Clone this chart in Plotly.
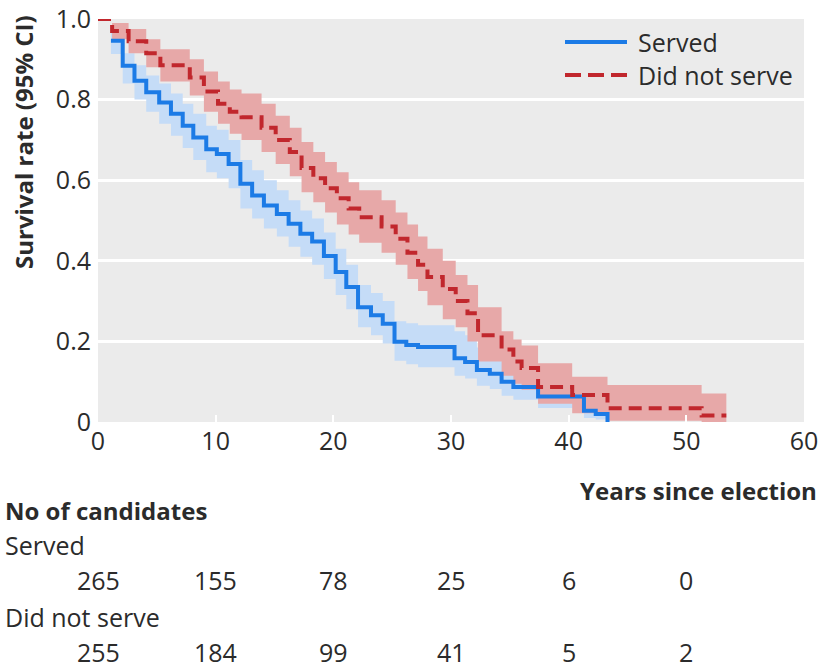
import plotly.graph_objects as go

# ---------------- data ----------------
served_t = [1.1, 2.1, 3.1, 4.1, 5.2, 6.2, 7.2, 8.1, 9.2, 10.1, 11.1, 12.1, 13.1, 14.1, 15.2,
            16.2, 17.2, 18.2, 19.2, 20.2, 21.1, 22.1, 23.2, 24.2, 25.2, 26.2, 27.2, 30.3, 31.2,
            32.2, 33.3, 34.3, 35.3, 37.4, 41.3, 42.3, 43.3]
served_s = [0.946, 0.884, 0.847, 0.818, 0.793, 0.765, 0.735, 0.706, 0.677, 0.665, 0.640, 0.591,
            0.562, 0.537, 0.516, 0.492, 0.467, 0.448, 0.412, 0.372, 0.335, 0.285, 0.265, 0.244,
            0.199, 0.191, 0.186, 0.158, 0.149, 0.129, 0.120, 0.100, 0.087, 0.063, 0.028, 0.020, 0.0]
served_hi = [0.972, 0.915, 0.885, 0.86, 0.84, 0.815, 0.79, 0.765, 0.735, 0.725, 0.70, 0.65, 0.625,
             0.60, 0.575, 0.55, 0.525, 0.505, 0.47, 0.43, 0.39, 0.34, 0.32, 0.30, 0.25, 0.245,
             0.24, 0.225, 0.215, 0.185, 0.175, 0.15, 0.135, 0.10, 0.05, 0.04, 0.04]
served_lo = [0.913, 0.84, 0.80, 0.77, 0.74, 0.71, 0.68, 0.65, 0.62, 0.605, 0.58, 0.53, 0.505,
             0.48, 0.46, 0.435, 0.41, 0.39, 0.355, 0.315, 0.28, 0.235, 0.215, 0.195, 0.152,
             0.143, 0.136, 0.115, 0.108, 0.09, 0.082, 0.065, 0.055, 0.035, 0.01, 0.006, 0.006]

dns_t = [0, 1.2, 2.6, 4.1, 5.3, 7.8, 9.0, 10.2, 11.2, 12.2, 13.9, 15.1, 16.3, 17.3, 18.3, 19.3,
         20.3, 21.3, 22.2, 24.1, 25.3, 26.3, 27.2, 28.0, 29.3, 30.4, 31.4, 32.3, 34.3, 35.3,
         36.0, 37.4, 40.3, 43.3, 51.3, 53.4]
dns_s = [1.0, 0.970, 0.945, 0.915, 0.885, 0.855, 0.820, 0.790, 0.770, 0.756, 0.730, 0.700,
         0.670, 0.630, 0.605, 0.580, 0.555, 0.530, 0.508, 0.485, 0.455, 0.420, 0.390, 0.360,
         0.330, 0.300, 0.270, 0.215, 0.180, 0.150, 0.134, 0.087, 0.067, 0.034, 0.016, 0.016]
dns_band_t = [1.2, 2.6, 4.1, 5.3, 7.8, 9.0, 10.2, 11.2, 12.2, 13.9, 15.1, 16.3, 17.3, 18.3, 19.3,
              20.3, 21.3, 22.2, 24.1, 25.3, 26.3, 27.2, 28.0, 29.3, 30.4, 31.4, 32.3, 34.3, 35.3,
              36.0, 37.4, 40.3, 43.3, 51.3, 53.4]
dns_hi = [0.99, 0.975, 0.95, 0.925, 0.90, 0.87, 0.845, 0.825, 0.815, 0.79, 0.76, 0.73, 0.695,
          0.67, 0.645, 0.62, 0.595, 0.575, 0.55, 0.52, 0.49, 0.46, 0.43, 0.40, 0.365, 0.34,
          0.285, 0.225, 0.205, 0.19, 0.146, 0.112, 0.092, 0.071, 0.071]
dns_lo = [0.95, 0.915, 0.88, 0.845, 0.81, 0.77, 0.74, 0.715, 0.70, 0.67, 0.64, 0.61, 0.57,
          0.545, 0.52, 0.49, 0.465, 0.445, 0.42, 0.39, 0.355, 0.325, 0.29, 0.255, 0.235, 0.20,
          0.15, 0.115, 0.095, 0.08, 0.045, 0.022, 0.003, 0.0, 0.0]

x_ticks = [0, 10, 20, 30, 40, 50, 60]
y_ticks = [0, 0.2, 0.4, 0.6, 0.8, 1.0]
y_ticktext = ["0", "0.2", "0.4", "0.6", "0.8", "1.0"]

risk_times = [0, 10, 20, 30, 40, 50]
served_at_risk = [265, 155, 78, 25, 6, 0]
dns_at_risk = [255, 184, 99, 41, 5, 2]

# ---------------- styling ----------------
FONT = "Open Sans"
FS = 25
TXT = "#2b2b2b"
BLUE = "#1C7BE6"
BLUE_BAND = "#C5DCF7"
RED = "#C1272D"
RED_BAND = "#E7A8A8"
BG = "#EBEBEB"

W, H = 824, 668
PL, PR, PT, PB = 98, 804, 19, 422


def px_x(px):
    return (px - PL) / (PR - PL)


def px_y(py):
    return (PB - py) / (PB - PT)


fig = go.Figure()

# confidence bands
fig.add_trace(go.Scatter(x=served_t, y=served_hi, mode="lines",
                         line=dict(width=0, shape="hv", color=BLUE_BAND),
                         showlegend=False, hoverinfo="skip"))
fig.add_trace(go.Scatter(x=served_t, y=served_lo, mode="lines",
                         line=dict(width=0, shape="hv", color=BLUE_BAND),
                         fill="tonexty", fillcolor=BLUE_BAND,
                         showlegend=False, hoverinfo="skip"))
fig.add_trace(go.Scatter(x=dns_band_t, y=dns_hi, mode="lines",
                         line=dict(width=0, shape="hv", color=RED_BAND),
                         showlegend=False, hoverinfo="skip"))
fig.add_trace(go.Scatter(x=dns_band_t, y=dns_lo, mode="lines",
                         line=dict(width=0, shape="hv", color=RED_BAND),
                         fill="tonexty", fillcolor=RED_BAND,
                         showlegend=False, hoverinfo="skip"))

# survival curves
fig.add_trace(go.Scatter(x=served_t, y=served_s, mode="lines", name="Served",
                         line=dict(color=BLUE, width=4, shape="hv"),
                         cliponaxis=False, showlegend=False))
fig.add_trace(go.Scatter(x=dns_t, y=dns_s, mode="lines", name="Did not serve",
                         line=dict(color=RED, width=4, shape="hv", dash="13px,7px"),
                         cliponaxis=False, showlegend=False))

annotations = []
shapes = []

# legend (drawn manually so sample length matches)
legend_items = [("Served", BLUE, "solid", 42), ("Did not serve", RED, "16px,7px", 75)]
for label, color, dash, py in legend_items:
    shapes.append(dict(type="line", xref="paper", yref="paper",
                       x0=px_x(565), x1=px_x(627), y0=px_y(py), y1=px_y(py),
                       line=dict(color=color, width=4, dash=dash)))
    annotations.append(dict(text=label, xref="paper", yref="paper",
                            x=px_x(636), y=px_y(py), xanchor="left", yanchor="middle",
                            showarrow=False, font=dict(family=FONT, size=FS, color=TXT)))

# y-axis title
annotations.append(dict(text="Survival rate (95% CI)", xref="paper", yref="paper",
                        x=px_x(23), y=px_y(142), textangle=-90,
                        xanchor="center", yanchor="middle", showarrow=False,
                        font=dict(family=FONT, size=FS - 1, color=TXT, weight="bold")))
# x-axis title
annotations.append(dict(text="Years since election", xref="paper", yref="paper",
                        x=px_x(819), y=px_y(490), xanchor="right", yanchor="middle",
                        showarrow=False,
                        font=dict(family=FONT, size=FS - 1, color=TXT, weight="bold")))
# number at risk table
annotations.append(dict(text="No of candidates", xref="paper", yref="paper",
                        x=px_x(3), y=px_y(510), xanchor="left", yanchor="middle",
                        showarrow=False,
                        font=dict(family=FONT, size=FS - 1, color=TXT, weight="bold")))
for label, py in [("Served", 545), ("Did not serve", 617)]:
    annotations.append(dict(text=label, xref="paper", yref="paper",
                            x=px_x(3), y=px_y(py), xanchor="left", yanchor="middle",
                            showarrow=False, font=dict(family=FONT, size=FS, color=TXT)))
for values, py in [(served_at_risk, 580), (dns_at_risk, 652)]:
    for t, v in zip(risk_times, values):
        annotations.append(dict(text=str(v), xref="x", yref="paper",
                                x=t, y=px_y(py), xanchor="center", yanchor="middle",
                                showarrow=False, font=dict(family=FONT, size=FS, color=TXT)))

fig.update_layout(
    width=W, height=H,
    margin=dict(l=PL, r=W - PR, t=PT, b=H - PB, autoexpand=False),
    paper_bgcolor="white", plot_bgcolor=BG,
    font=dict(family=FONT, size=FS, color=TXT),
    showlegend=False,
    annotations=annotations, shapes=shapes,
    xaxis=dict(range=[0, 60], tickvals=x_ticks, showgrid=False, zeroline=False,
               showline=False, ticks="inside", ticklen=7, tickwidth=2, tickcolor="white",
               tickfont=dict(family=FONT, size=FS, color=TXT), ticklabelstandoff=2,
               automargin=False),
    yaxis=dict(range=[0, 1], tickvals=y_ticks, ticktext=y_ticktext, showgrid=True,
               gridcolor="white", gridwidth=2.5, zeroline=False, showline=False,
               ticks="", tickfont=dict(family=FONT, size=FS, color=TXT),
               ticklabelstandoff=6, automargin=False),
)

fig.write_html("out.html", config={"displayModeBar": False},
               post_script="document.body.style.margin='0';")
